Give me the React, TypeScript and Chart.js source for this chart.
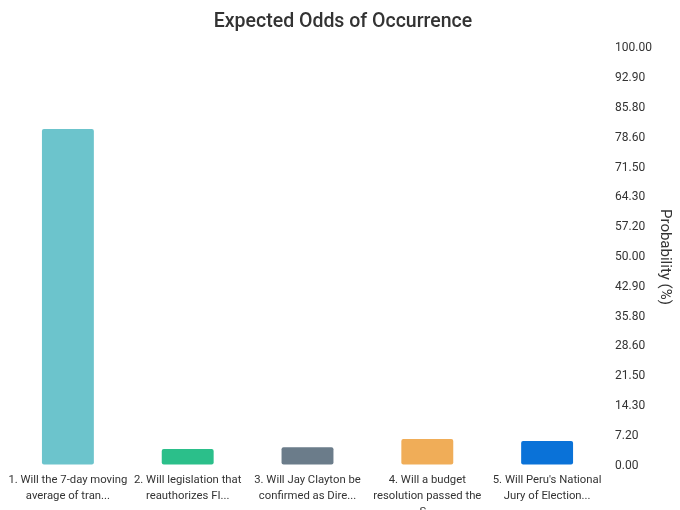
import { useEffect, useRef } from "react";
import { Chart, registerables } from "chart.js";

Chart.register(...registerables);

const labels: string[][] = [
  ["1. Will the 7-day moving", "average of tran..."],
  ["2. Will legislation that", "reauthorizes FI..."],
  ["3. Will Jay Clayton be", "confirmed as Dire..."],
  ["4. Will a budget", "resolution passed the", "S..."],
  ["5. Will Peru's National", "Jury of Election..."],
];
const probabilities = [80.9, 4.2, 4.6, 6.6, 6.1];
const barColors = ["#6CC4CC", "#2BBF8A", "#6B7C8A", "#F0AD58", "#0A72D8"];

export default function App() {
  const canvasRef = useRef<HTMLCanvasElement>(null);
  const chartRef = useRef<Chart | null>(null);

  useEffect(() => {
    document.body.style.margin = "0";
    document.body.style.overflow = "hidden";
    const el = canvasRef.current;
    if (!el) return;
    chartRef.current?.destroy();

    chartRef.current = new Chart(el, {
      type: "bar",
      data: {
        labels,
        datasets: [
          {
            label: "Probability",
            data: probabilities,
            backgroundColor: barColors,
            borderColor: "rgba(255,255,255,0.35)",
            borderWidth: 1,
            borderRadius: 3,
            borderSkipped: false,
            barPercentage: 0.5,
            categoryPercentage: 0.9,
          },
        ],
      },
      options: {
        animation: false,
        responsive: true,
        maintainAspectRatio: false,
        layout: { padding: { left: 8, right: 2, bottom: 0 } },
        font: { family: "Roboto" },
        plugins: {
          legend: { display: false },
          tooltip: { enabled: false },
          title: {
            display: true,
            text: "Expected Odds of Occurrence",
            color: "#333333",
            font: { family: "Roboto", size: 19.5, weight: 500 },
            padding: { top: 10, bottom: 15 },
          },
        },
        scales: {
          x: {
            grid: { display: false, drawTicks: false },
            border: { display: false },
            ticks: {
              color: "#333333",
              font: { family: "Roboto", size: 11.3, lineHeight: 1.4 },
              autoSkip: false,
              maxRotation: 0,
              padding: 7,
            },
          },
          y: {
            position: "right",
            min: 0,
            max: 100,
            afterFit: (axis) => {
              axis.width = 71;
            },
            grid: { display: false, drawTicks: false },
            border: { display: false },
            ticks: {
              stepSize: 100 / 14,
              color: "#333333",
              font: { family: "Roboto", size: 12 },
              padding: 8,
              callback: (v) => {
                const n = typeof v === "number" ? v : parseFloat(String(v));
                return (Math.ceil(n * 10 - 1e-6) / 10).toFixed(2);
              },
            },
            title: {
              display: true,
              text: "Probability (%)",
              color: "#333333",
              font: { family: "Roboto", size: 15 },
              padding: { top: 4, bottom: 4 },
            },
          },
        },
      },
    });

    return () => {
      chartRef.current?.destroy();
      chartRef.current = null;
    };
  }, []);

  return (
    <div style={{ position: "relative", width: 680, height: 527 }}>
      <canvas ref={canvasRef} />
    </div>
  );
}
